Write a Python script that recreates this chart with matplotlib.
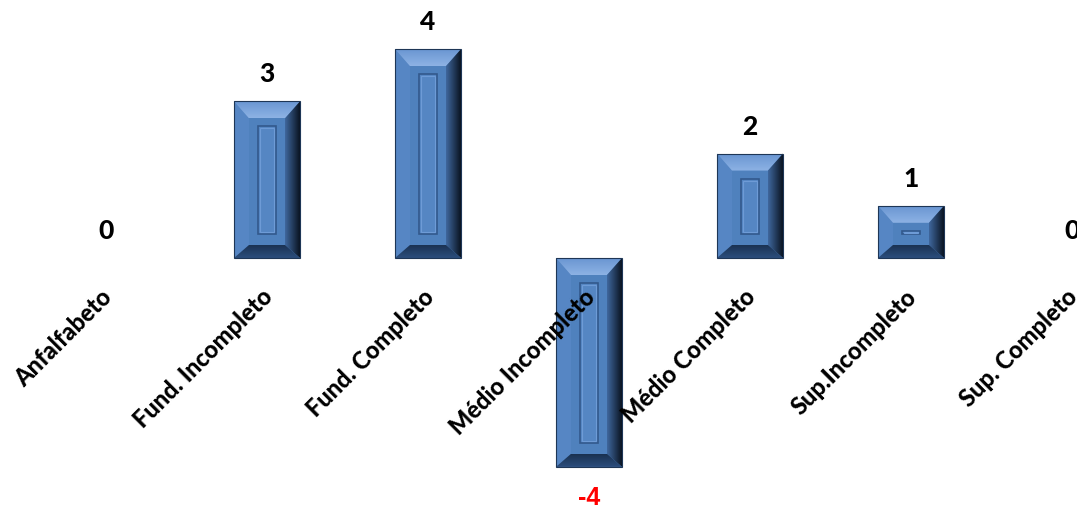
import matplotlib
matplotlib.use('Agg')
import matplotlib.pyplot as plt
import numpy as np
from matplotlib.patches import Polygon, Rectangle
from matplotlib.colors import LinearSegmentedColormap

# categorias de escolaridade e saldo
categorias = ['Anfalfabeto', 'Fund. Incompleto', 'Fund. Completo', 'Médio Incompleto',
              'Médio Completo', 'Sup.Incompleto', 'Sup. Completo']
valores = [0, 3, 4, -4, 2, 1, 0]

plt.rcParams['font.family'] = ['Lato', 'DejaVu Sans']

fig = plt.figure(figsize=(10.77, 5.06), dpi=100)
# eixo maior que a figura: a última categoria fica cortada à direita
ax = fig.add_axes([25.5 / 1077, 12 / 506, 1127 / 1077, 470 / 506])
ax.set_xlim(-0.5, len(categorias) - 0.5)
ax.set_ylim(-4.5, 4.5)
ax.axis('off')

x = np.arange(len(categorias))
barras = ax.bar(x, valores, width=0.41, color='#4f81bd', zorder=2)

# pixels por unidade de dados
p0 = ax.transData.transform((0, 0))
p1 = ax.transData.transform((1, 1))
sx = 1 / (p1[0] - p0[0])
sy = 1 / (p1[1] - p0[1])


def grad_fill(poly, c0, c1, horizontal, ext):
    cmap = LinearSegmentedColormap.from_list('g', [c0, c1])
    g = np.linspace(0, 1, 64)
    img = g[None, :] if horizontal else g[::-1][:, None]
    im = ax.imshow(img, cmap=cmap, extent=ext, aspect='auto', zorder=3,
                   interpolation='bilinear')
    clip = Polygon(poly, closed=True, transform=ax.transData)
    im.set_clip_path(clip)


for b, v in zip(barras, valores):
    if v == 0:
        continue
    x0 = b.get_x()
    x1 = x0 + b.get_width()
    y0 = min(b.get_y(), b.get_y() + b.get_height())
    y1 = max(b.get_y(), b.get_y() + b.get_height())
    bx, bt, bb = 15 * sx, 17 * sy, 13 * sy
    top = [(x0, y1), (x1, y1), (x1 - bx, y1 - bt), (x0 + bx, y1 - bt)]
    left = [(x0, y0), (x0, y1), (x0 + bx, y1 - bt), (x0 + bx, y0 + bb)]
    right = [(x1, y0), (x1, y1), (x1 - bx, y1 - bt), (x1 - bx, y0 + bb)]
    bottom = [(x0, y0), (x1, y0), (x1 - bx, y0 + bb), (x0 + bx, y0 + bb)]
    ax.add_patch(Polygon(left, closed=True, color='#5686c4', lw=0, zorder=3))
    grad_fill(top, '#8db2e4', '#6a96d2', False, (x0, x1, y1 - bt, y1))
    grad_fill(right, '#3f679d', '#0a1422', True, (x1 - bx, x1, y0, y1))
    grad_fill(bottom, '#2b4d7c', '#1a3150', False, (x0, x1, y0, y0 + bb))
    ax.add_patch(Rectangle((x0, y0), x1 - x0, y1 - y0, fill=False,
                           ec='#1e3656', lw=0.8, zorder=4))
    # painel interno
    ix0, ix1 = x0 + 24 * sx, x1 - 24 * sx
    iy0, iy1 = y0 + 24 * sy, y1 - 25 * sy
    ax.add_patch(Rectangle((ix0, iy0), ix1 - ix0, iy1 - iy0, fc='#5586c3',
                           ec='#33598c', lw=1.2, zorder=4))
    ax.add_patch(Rectangle((ix0 + 2 * sx, iy0 + 2 * sy), ix1 - ix0 - 4 * sx,
                           iy1 - iy0 - 4 * sy, fill=False, ec='#6e9bd6', lw=0.8, zorder=4))

# rótulos de valor
for xi, v in zip(x, valores):
    if v < 0:
        ax.annotate(str(v), xy=(xi, v), xytext=(0, -37), textcoords='offset pixels',
                    ha='center', va='baseline', fontsize=18, fontweight='bold',
                    color='#ff0000', family=['Liberation Sans', 'DejaVu Sans'], zorder=10)
    else:
        ax.annotate(str(v), xy=(xi, v), xytext=(0, 20), textcoords='offset pixels',
                    ha='center', va='baseline', fontsize=19, fontweight='black',
                    color='black', zorder=10)

# rótulos das categorias (por cima das barras)
for xi, c in zip(x, categorias):
    ax.annotate(c, xy=(xi, 0), xytext=(2, -34), textcoords='offset pixels',
                ha='right', va='center', rotation=45, rotation_mode='anchor',
                fontsize=17, fontweight='black', color='black',
                annotation_clip=False, zorder=10)

fig.savefig('out.png', dpi=100)
